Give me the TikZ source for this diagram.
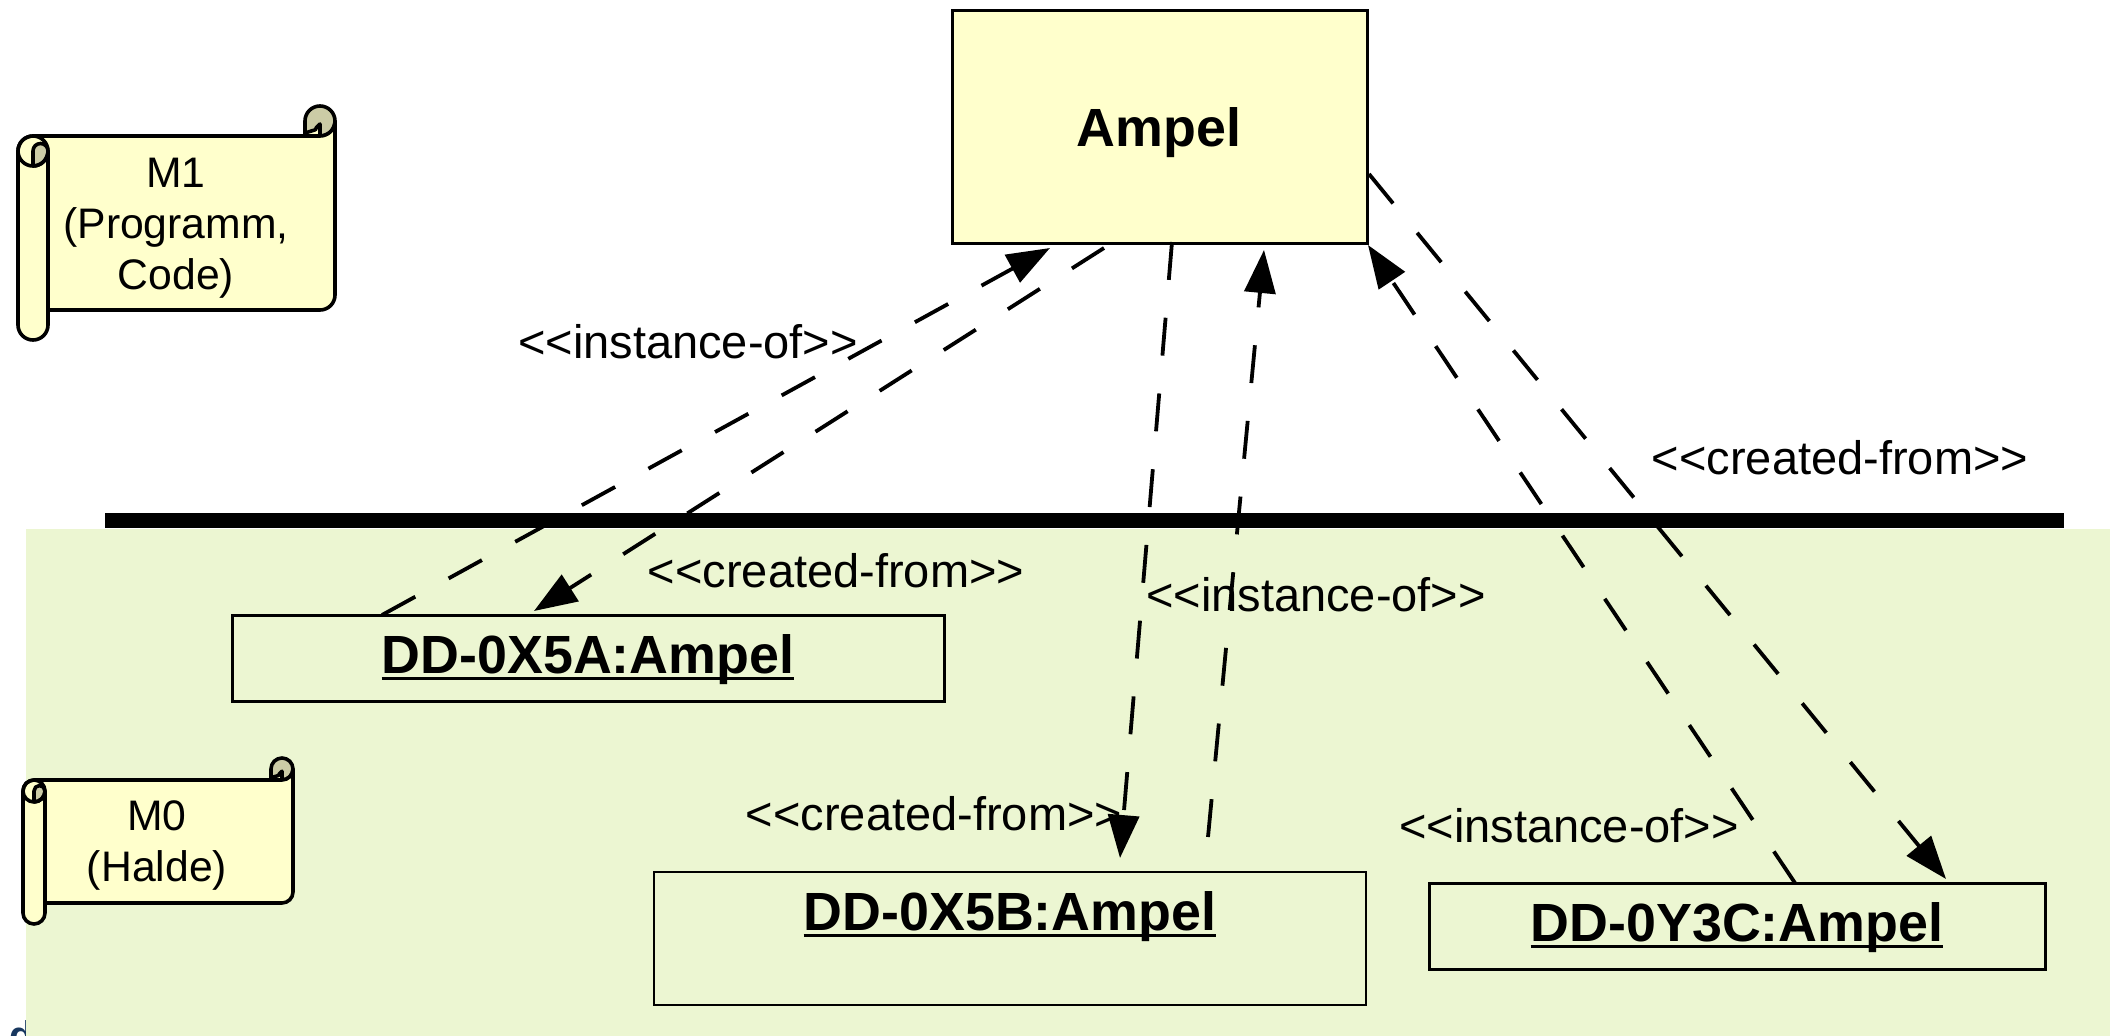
\documentclass[tikz,border=0pt]{standalone}
\usepackage{fontspec}
\setmainfont{Liberation Sans}
\usetikzlibrary{arrows.meta}
\definecolor{paleyellow}{HTML}{FFFFCC}
\definecolor{palegreen}{HTML}{ECF6D2}
\definecolor{curlshade}{HTML}{CCCCA6}
\definecolor{navyglyph}{HTML}{17375E}
\newcommand{\ulbold}[1]{\setbox0=\hbox{#1}\rlap{\rule[-6.5pt]{\wd0}{3pt}}\box0}
% x0 xr yT yB yR r: left, right, body top, body bottom, roll bottom, radius
\newcommand{\scrollshape}[6]{%
  \def\xa{#1}\def\xb{#2}\def\yt{#3}\def\yb{#4}\def\yr{#5}\def\rr{#6}%
  % top right curl
  \fill[paleyellow] (\xb-2*\rr,\yt-\rr) rectangle (\xb-\rr,\yt);
  \filldraw[scrollline,fill=curlshade] (\xb-2*\rr,\yt) -- (\xb-2*\rr,\yt-\rr) arc[start angle=180,end angle=0,radius=\rr pt] arc[start angle=0,end angle=-90,radius=\rr pt]
     -- (\xb-\rr,\yt-0.8*\rr) -- (\xb-1.25*\rr,\yt-.55*\rr) -- (\xb-1.3*\rr,\yt-.42*\rr) -- (\xb-2*\rr,\yt-.2*\rr);
  % body
  \filldraw[scrollline,fill=paleyellow] (\xa+\rr,\yt) -- (\xb-\rr,\yt) arc[start angle=-90,end angle=0,radius=\rr pt]
     -- (\xb,\yb-\rr) arc[start angle=0,end angle=-90,radius=\rr pt] -- (\xa+\rr,\yb) -- cycle;
  % left roll
  \filldraw[scrollline,fill=paleyellow] (\xa,\yt+\rr) -- (\xa,\yr-\rr) arc[start angle=180,end angle=360,radius=\rr pt] -- (\xa+2*\rr,\yt+\rr)
     arc[start angle=0,end angle=180,radius=\rr pt] -- cycle;
  \filldraw[scrollline,fill=curlshade] (\xa+\rr,\yt+2*\rr) -- (\xa+\rr,\yt+\rr) arc[start angle=180,end angle=0,radius=.5*\rr pt] arc[start angle=0,end angle=-90,radius=\rr pt];
  \draw[scrollline] (\xa,\yt+\rr) arc[start angle=180,end angle=90,radius=\rr pt];
  \draw[scrollline] (\xa,\yt+\rr) arc[start angle=180,end angle=360,radius=\rr pt];
}
\tikzset{
  scrollline/.style={line width=3.6pt,line join=round},
  box/.style={draw,line width=2.5pt,inner sep=0pt,anchor=north west},
  boxtext/.style={font=\fontsize{53.8}{53.8}\selectfont\bfseries,anchor=base,inner sep=0pt},
  stereo/.style={font=\fontsize{47}{47}\selectfont,anchor=base,inner sep=0pt},
  scrolltext/.style={font=\fontsize{42.7}{51}\selectfont,align=center,anchor=base,inner sep=0pt},
  link/.style={line width=3.8pt,dash pattern=on 38pt off 38pt,-{Triangle[length=43pt,width=31pt]}},
}
\begin{document}
\begin{tikzpicture}[x=1pt,y=-1pt]
\useasboundingbox (0,0) rectangle (2110,1036);
\begin{scope}
  \clip (0,1000) rectangle (26,1036);
  \node[anchor=base,inner sep=0pt,text=navyglyph,font=\fontsize{40}{40}\selectfont\bfseries] (frag) at (22,1049) {d};
\end{scope}
\fill[palegreen] (26,529) rectangle (2110,1036);

\node[box,fill=paleyellow,minimum width=415pt,minimum height=233pt] (ampel) at (951,9) {};
\node[box,minimum width=712pt,minimum height=86pt] (a5a) at (231,614) {};
\node[box,minimum width=712pt,minimum height=133pt] (a5b) at (652.5,870.5) {};
\node[box,minimum width=616pt,minimum height=86pt] (a3c) at (1428,882) {};

\coordinate (s1) at (382,615);  \coordinate (e1) at (1050,248);
\coordinate (s2) at (1104,248); \coordinate (e2) at (534,611);
\coordinate (s3) at (1172,242); \coordinate (e3) at (1120,858);
\coordinate (s4) at (1208,837); \coordinate (e4) at (1264,250);
\coordinate (s5) at (1795,883); \coordinate (e5) at (1368,245);
\coordinate (s6) at (1369,174); \coordinate (e6) at (1946,879);

\draw[link] (s1) -- (e1);
\draw[link] (s2) -- (e2);
\draw[link] (s3) -- (e3);
\draw[link] (s4) -- (e4);
\draw[link] (s5) -- (e5);
\draw[link] (s6) -- (e6);

\fill[black] (105,513) rectangle (2064,528);

\node[boxtext] (t0) at (1159,146) {Ampel};
\node[boxtext] (t1) at (588,673) {\ulbold{DD-0X5A:Ampel}};
\node[boxtext] (t2) at (1010,930) {\ulbold{DD-0X5B:Ampel}};
\node[boxtext] (t3) at (1737,941) {\ulbold{DD-0Y3C:Ampel}};

\node[stereo] (l1) at (688,358) {<{}<instance-of>{}>};
\node[stereo] (l2) at (1840,474) {<{}<created-from>{}>};
\node[stereo] (l3) at (836,587) {<{}<created-from>{}>};
\node[stereo] (l4) at (1316,611) {<{}<instance-of>{}>};
\node[stereo] (l5) at (934,830) {<{}<created-from>{}>};
\node[stereo] (l6) at (1569,842) {<{}<instance-of>{}>};

\scrollshape{18}{335}{136}{310}{340}{15}
\node[scrolltext] (m1) at (176,289) {M1\\(Programm,\\Code)};
\scrollshape{23}{293}{780}{903}{924}{11}
\node[scrolltext] (m0) at (157,881) {M0\\(Halde)};
\end{tikzpicture}
\end{document}
